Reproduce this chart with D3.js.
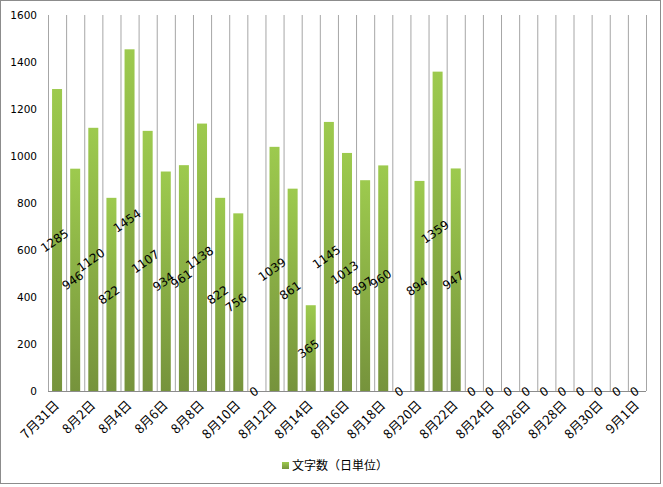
<!DOCTYPE html>
<html>
<head>
<meta charset="utf-8">
<script src="https://cdn.jsdelivr.net/npm/d3@7"></script>
<style>
  body { margin: 0; background: #fff; }
  svg { display: block; }
</style>
</head>
<body>
<div id="chart"></div>
<script>
const dates = ["7月31日", "8月1日", "8月2日", "8月3日", "8月4日", "8月5日", "8月6日", "8月7日", "8月8日", "8月9日",
  "8月10日", "8月11日", "8月12日", "8月13日", "8月14日", "8月15日", "8月16日", "8月17日", "8月18日", "8月19日",
  "8月20日", "8月21日", "8月22日", "8月23日", "8月24日", "8月25日", "8月26日", "8月27日", "8月28日", "8月29日",
  "8月30日", "8月31日", "9月1日"];
const counts = [1285, 946, 1120, 822, 1454, 1107, 934, 961, 1138, 822,
  756, 0, 1039, 861, 365, 1145, 1013, 897, 960, 0,
  894, 1359, 947, 0, 0, 0, 0, 0, 0, 0,
  0, 0, 0];
const yTicks = [0, 200, 400, 600, 800, 1000, 1200, 1400, 1600];
const seriesName = "文字数（日単位）";

const width = 663, height = 487;
const plot = { left: 48, right: 646, top: 15, bottom: 391 };

const svg = d3.select('#chart').append('svg').attr('width', width).attr('height', height);

const defs = svg.append('defs');
const grad = defs.append('linearGradient').attr('id', 'barGrad')
    .attr('x1', 0).attr('y1', 0).attr('x2', 0).attr('y2', 1);
grad.append('stop').attr('offset', '0%').attr('stop-color', '#9dca4e');
grad.append('stop').attr('offset', '100%').attr('stop-color', '#76933c');

// outer border
svg.append('rect')
    .attr('x', 0.5).attr('y', 0.5).attr('width', width - 3).attr('height', height - 4)
    .attr('fill', 'none').attr('stroke', '#8c8c8c');

const x = d3.scaleBand().domain(dates).range([plot.left, plot.right]).paddingInner(0).paddingOuter(0);
const y = d3.scaleLinear().domain([0, 1600]).range([plot.bottom, plot.top]);

// vertical gridlines at category boundaries
const bounds = dates.map(d => x(d)).concat([plot.right]);
svg.append('g').selectAll('line').data(bounds).enter().append('line')
    .attr('x1', d => d + 0.5).attr('x2', d => d + 0.5)
    .attr('y1', plot.top).attr('y2', plot.bottom)
    .attr('stroke', '#a6a6a6').attr('stroke-width', 1);

// y axis labels
svg.append('g').selectAll('text').data(yTicks).enter().append('text')
    .attr('x', 37).attr('y', d => y(d) + 4)
    .attr('text-anchor', 'end')
    .style('font-family', 'DejaVu Sans').style('font-size', '10.5px').attr('fill', '#000')
    .text(d => d);

// bars
const barW = 10;
svg.append('g').selectAll('rect').data(counts).enter().append('rect')
    .attr('x', (d, i) => x(dates[i]) + (x.bandwidth() - barW) / 2)
    .attr('y', d => y(d))
    .attr('width', barW)
    .attr('height', d => plot.bottom - y(d))
    .attr('fill', 'url(#barGrad)');

// x axis line
svg.append('line')
    .attr('x1', plot.left).attr('x2', plot.right)
    .attr('y1', plot.bottom + 0.5).attr('y2', plot.bottom + 0.5)
    .attr('stroke', '#8c8c8c');

// data labels
svg.append('g').selectAll('text').data(counts).enter().append('text')
    .attr('transform', (d, i) => {
        const cx = x(dates[i]) + x.bandwidth() / 2;
        const cy = (y(d) + plot.bottom) / 2 + 4;
        return `translate(${cx},${cy}) rotate(-35)`;
    })
    .attr('text-anchor', 'middle')
    .style('font-family', 'DejaVu Sans').style('font-size', '12px').attr('fill', '#000')
    .text(d => d);

// x tick labels (every other day)
svg.append('g').selectAll('text').data(dates.filter((d, i) => i % 2 === 0)).enter().append('text')
    .attr('transform', d => `translate(${x(d) + x.bandwidth() / 2 + 3},${plot.bottom + 15}) rotate(-45)`)
    .attr('text-anchor', 'end')
    .style('font-family', 'Noto Sans CJK JP').style('font-size', '13px').attr('fill', '#000')
    .text(d => d);

// legend
const legend = svg.append('g').attr('transform', 'translate(282,462)');
legend.append('rect').attr('width', 7).attr('height', 7).attr('fill', 'url(#barGrad)');
legend.append('text')
    .attr('x', 10).attr('y', 8)
    .style('font-family', 'Noto Sans CJK JP').style('font-size', '12px').attr('fill', '#000')
    .text(seriesName);
</script>
</body>
</html>
